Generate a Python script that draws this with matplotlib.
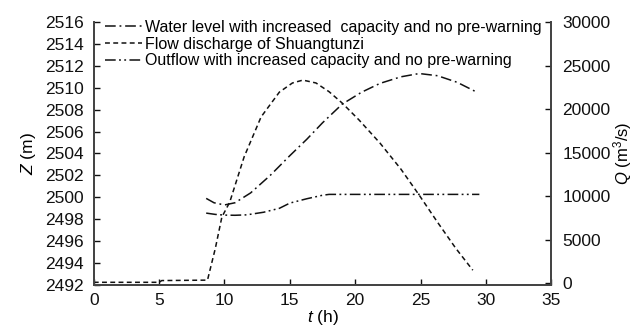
import matplotlib
matplotlib.use("Agg")
import matplotlib.pyplot as plt
import numpy as np

plt.rcParams['font.family'] = ['Liberation Sans', 'DejaVu Sans']
plt.rcParams['mathtext.fontset'] = 'custom'
plt.rcParams['mathtext.rm'] = 'Liberation Sans'
plt.rcParams['mathtext.it'] = 'Liberation Sans:italic'

# Water level (Z, m)
t_wl = [8.6, 9.2, 10.0, 10.8, 12.0, 13.5, 15.0, 16.3, 17.5, 19.0, 20.5, 21.9, 23.5, 24.9, 26.3, 27.8, 29.3]
z_wl = [2499.9, 2499.5, 2499.3, 2499.5, 2500.4, 2502.0, 2503.8, 2505.3, 2506.8, 2508.5, 2509.6, 2510.4, 2511.0, 2511.3, 2511.1, 2510.5, 2509.6]

# Flow discharge of Shuangtunzi (Q, m3/s)
t_fd = [0.0, 5.0, 5.2, 8.7, 9.3, 9.8, 10.4, 11.5, 12.8, 14.2, 15.2, 16.0, 17.0, 18.0, 19.0, 20.3, 21.9, 23.5, 24.9, 26.3, 27.7, 29.0]
q_fd = [100, 100, 300, 350, 4000, 7600, 9300, 14500, 19100, 21950, 23000, 23330, 23000, 22000, 20700, 18740, 16090, 13100, 10110, 7000, 4000, 1490]

# Outflow (Q, m3/s)
t_of = [8.6, 9.3, 10.0, 10.8, 11.7, 13.0, 14.2, 15.0, 16.3, 17.5, 18.0, 20.0, 25.0, 29.5]
q_of = [8050, 7900, 7820, 7800, 7850, 8150, 8600, 9200, 9700, 10100, 10200, 10200, 10200, 10200]

xticks = [0, 5, 10, 15, 20, 25, 30, 35]
zticks = list(range(2492, 2517, 2))
qticks = [0, 5000, 10000, 15000, 20000, 25000, 30000]

fig = plt.figure(figsize=(6.38, 3.29), dpi=100)
ax = fig.add_axes([0.147, 0.134, 0.717, 0.799])
ax2 = ax.twinx()

c = '#111111'
l1, = ax.plot(t_wl, z_wl, color=c, lw=1.1, dashes=[7, 2.5, 1.2, 2.5])
l2, = ax2.plot(t_fd, q_fd, color=c, lw=1.1, dashes=[3.2, 2.2])
l3, = ax2.plot(t_of, q_of, color=c, lw=1.1, dashes=[7, 2.2, 1.2, 2.2, 1.2, 2.2])

ax.set_xlim(0, 35)
ax.set_ylim(2492, 2516)
ax2.set_ylim(-200, 30000)
ax.set_xticks(xticks)
ax.set_yticks(zticks)
ax2.set_yticks(qticks)

for a in (ax, ax2):
    a.spines['top'].set_visible(False)
    for s in a.spines.values():
        s.set_color('#444444')
        s.set_linewidth(1.3)
ax.tick_params(axis='y', direction='in', length=4, labelsize=12.5, colors='#111111', width=1, pad=7)
ax.tick_params(axis='x', direction='in', length=4, labelsize=12.5, colors='#111111', width=1, pad=6)
ax2.tick_params(direction='in', length=4, labelsize=12.5, colors='#111111', width=1, pad=8)

ax.set_xlabel(r'$\it{t}$ (h)', fontsize=12.5, labelpad=0)
ax.set_ylabel(r'$\it{Z}$ (m)', fontsize=12.5, labelpad=5)
ax2.set_ylabel(r'$\it{Q}$ (m$^3$/s)', fontsize=12, labelpad=0)

leg = ax.legend([l1, l2, l3],
                ['Water level with increased  capacity and no pre-warning',
                 'Flow discharge of Shuangtunzi',
                 'Outflow with increased capacity and no pre-warning'],
                loc='upper left', bbox_to_anchor=(0.0, 1.05), frameon=False,
                fontsize=11.5, handlelength=2.3, handletextpad=0.2,
                labelspacing=0.1, borderaxespad=0.3)

fig.savefig('out.png', dpi=100)
